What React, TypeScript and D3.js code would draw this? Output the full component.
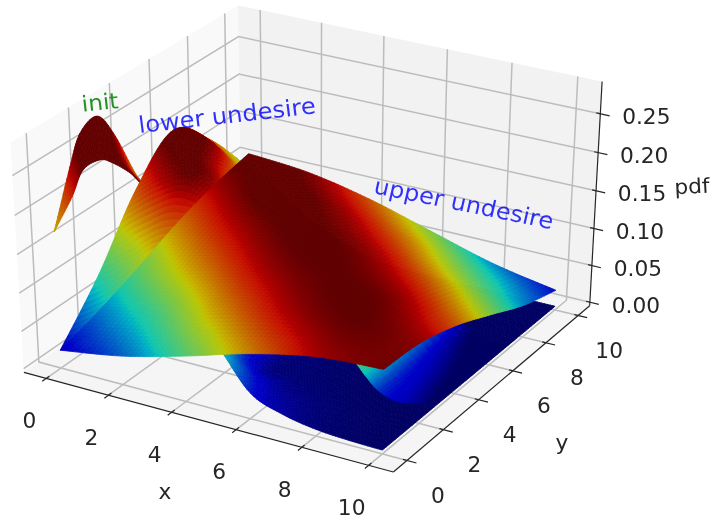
// 3D surface plot (matplotlib mplot3d look) projected by hand, drawn with d3
import React, { useRef, useEffect } from 'react';
import * as d3 from 'd3';

const xTicks = [0, 2, 4, 6, 8, 10];
const yTicks = [0, 2, 4, 6, 8, 10];
const zTicks = [0, 0.05, 0.1, 0.15, 0.2, 0.25];

// main sheet (upper undesire), rows are y = 0, 2 .. 10, columns x = 0, 2 .. 10
const sheetX = [0, 2, 4, 6, 8, 10];
const sheetY = [0, 2, 4, 6, 8, 10];
const sheetZ = [
	[0.019, 0.033, 0.055, 0.08, 0.098, 0.104],
	[0.036, 0.055, 0.08, 0.098, 0.105, 0.1],
	[0.057, 0.08, 0.098, 0.105, 0.102, 0.085],
	[0.08, 0.098, 0.106, 0.102, 0.086, 0.062],
	[0.098, 0.108, 0.102, 0.086, 0.062, 0.038],
	[0.11, 0.103, 0.086, 0.062, 0.038, 0.022],
];

// lower hump, rows are y = 0, 2 .. 10, columns x = 0, 1 .. 10
const humpX = [0, 1, 2, 3, 4, 5, 6, 7, 8, 9, 10];
const humpY = [0, 2, 4, 6, 8, 10];
const humpZ = [
	[0.019, 0.05, 0.09, 0.12, 0.115, 0.08, 0.029, 0.012, 0.004, 0.001, 0],
	[0.082, 0.11, 0.14, 0.15, 0.09, 0.018, 0.006, 0.003, 0.001, 0, 0],
	[0.16, 0.19, 0.2, 0.16, 0.07, 0.012, 0.003, 0.001, 0, 0, 0],
	[0.206, 0.2, 0.15, 0.08, 0.025, 0.005, 0.001, 0, 0, 0, 0],
	[0.16, 0.13, 0.08, 0.04, 0.012, 0.002, 0, 0, 0, 0, 0],
	[0.09, 0.07, 0.04, 0.02, 0.005, 0.001, 0, 0, 0, 0, 0],
];

// init ribbon: outer edge lies on x = 0, inner edge lies on y = 0
const initOuterY = [0, 0.88, 1.42, 2.25, 3.0, 3.93, 4.27];
const initOuterZ = [0.174, 0.242, 0.275, 0.283, 0.25, 0.187, 0.168];
const initInnerX = [0, 0.62, 1.0, 1.55, 1.94, 2.45, 2.75];
const initInnerZ = [0.174, 0.224, 0.261, 0.279, 0.279, 0.272, 0.263];

// small tail showing below the main sheet on the right
const tailX = [8.16, 8.5, 8.85, 9.42, 9.92, 10];
const tailY = [
	[1.88, 1.82, 1.84, 1.85, 2.48, 3.5],
	[4, 4, 4, 4, 4.2, 5],
	[7, 7, 7, 7, 7, 7.5],
];
const tailZ = [
	[0.055, 0.042, 0.028, 0.02, 0.012, 0.003],
	[0.05, 0.036, 0.024, 0.015, 0.006, 0.002],
	[0.04, 0.022, 0.012, 0.004, 0.002, 0.001],
];

// jet colormap channels
const jetR = d3.scaleLinear([0, 0.35, 0.66, 0.89, 1], [0, 0, 1, 1, 0.5]).clamp(true);
const jetG = d3.scaleLinear([0, 0.125, 0.375, 0.64, 0.91, 1], [0, 0, 1, 1, 0, 0]).clamp(true);
const jetB = d3.scaleLinear([0, 0.11, 0.34, 0.65, 1], [0.5, 1, 1, 0, 0]).clamp(true);
const shade = 0.78;
const jet = (t) => d3.rgb(jetR(t) * 255 * shade, jetG(t) * 255 * shade, jetB(t) * 255 * shade).formatHex();

// world -> box coordinates
const xLim = [-0.73, 10.73];
const yLim = [-0.73, 10.73];
const zLim = [-0.005, 0.291];
const boxX = d3.scaleLinear(xLim, [-0.595, 0.595]);
const boxY = d3.scaleLinear(yLim, [-0.595, 0.595]);
const boxZ = d3.scaleLinear(zLim, [-0.4465, 0.4465]);
// projected -> pixels (the figure is stretched sideways)
const pixX = d3.scaleLinear([0, 1], [312, 312 + 3557]);
const pixY = d3.scaleLinear([0, 1], [227.5, 227.5 - 2935]);
const textStretch = 1.06;

// elev 30, azim -60, dist 10
const project = (x, y, z) => {
	const a = boxX(x), b = boxY(y), c = boxZ(z);
	const u = 0.866 * a + 0.5 * b;
	const v = -0.25 * a + 0.433 * b + 0.866 * c;
	const w = 10 - (0.433 * a - 0.75 * b + 0.5 * c);
	return [pixX(u / w), pixY(v / w), w];
};

// catmull-rom along an index
const spline = (arr, t) => {
	const n = arr.length - 1;
	const i = Math.min(Math.floor(t), n - 1);
	const f = t - i;
	if (n === 1) return arr[0] + (arr[1] - arr[0]) * f;
	const p0 = arr[Math.max(i - 1, 0)], p1 = arr[i], p2 = arr[i + 1], p3 = arr[Math.min(i + 2, n)];
	return 0.5 * (2 * p1 + (p2 - p0) * f + (2 * p0 - 5 * p1 + 4 * p2 - p3) * f * f + (3 * p1 - p0 - 3 * p2 + p3) * f * f * f);
};
const patch = (grid, u, v) => spline(grid.map(row => spline(row, u)), v);

const buildCells = (X, Y, Z, nu, nv, color) => {
	const cols = X[0].length - 1, rows = X.length - 1;
	const pts = d3.range(nv + 1).map(j => d3.range(nu + 1).map(i => {
		const u = i / nu * cols, v = j / nv * rows;
		const z = Math.max(patch(Z, u, v), 0);
		return { p: project(patch(X, u, v), patch(Y, u, v), z), z };
	}));
	const cells = [];
	for (let j = 0; j < nv; j++) {
		for (let i = 0; i < nu; i++) {
			const q = [pts[j][i], pts[j][i + 1], pts[j + 1][i + 1], pts[j + 1][i]];
			cells.push({
				d: d3.line()(q.map(o => [o.p[0], o.p[1]])) + 'Z',
				fill: color(d3.mean(q, o => o.z)),
				depth: d3.mean(q, o => o.p[2]),
			});
		}
	}
	return cells.sort((m, n) => d3.descending(m.depth, n.depth));
};

const App = () => {
	const svgRef = useRef();

	useEffect(() => {
		const svg = d3.select(svgRef.current);
		svg.selectAll('*').remove();

		const toPath = (list) => d3.line()(list.map(q => project(q[0], q[1], q[2]).slice(0, 2)));
		const [x0, x1] = xLim, [y0, y1] = yLim, [z0, z1] = zLim;

		// panes
		const panes = [
			{ pts: [[x0, y0, z0], [x0, y1, z0], [x0, y1, z1], [x0, y0, z1]], fill: '#f9f9f9' },
			{ pts: [[x0, y1, z0], [x1, y1, z0], [x1, y1, z1], [x0, y1, z1]], fill: '#f2f2f2' },
			{ pts: [[x0, y0, z0], [x1, y0, z0], [x1, y1, z0], [x0, y1, z0]], fill: '#f5f5f5' },
		];
		svg.append('g').selectAll('path').data(panes).join('path')
			.attr('d', d => toPath(d.pts) + 'Z')
			.attr('fill', d => d.fill);

		// grid
		const gridLines = [
			...xTicks.map(t => [[t, y0, z0], [t, y1, z0], [t, y1, z1]]),
			...yTicks.map(t => [[x1, t, z0], [x0, t, z0], [x0, t, z1]]),
			...zTicks.map(t => [[x0, y0, t], [x0, y1, t], [x1, y1, t]]),
		];
		svg.append('g').selectAll('path').data(gridLines).join('path')
			.attr('d', toPath)
			.attr('fill', 'none')
			.attr('stroke', '#bcbcbc')
			.attr('stroke-width', 1.5);

		// surfaces, each with its own colour range
		const initColor = d3.scaleLinear([0, 0.26], [0, 1]).clamp(true);
		const humpColor = d3.scaleLinear([0, 0.2], [0, 1]).clamp(true);
		const sheetColor = d3.scaleLinear([0.01, 0.105], [0, 1]).clamp(true);
		const surfaces = [
			buildCells(
				[initInnerX, initInnerX.map(() => 0)],
				[initInnerX.map(() => 0), initOuterY],
				[initInnerZ, initOuterZ],
				60, 6, z => jet(initColor(z))),
			buildCells(
				humpY.map(() => humpX),
				humpY.map(y => humpX.map(() => y)),
				humpZ,
				100, 60, z => jet(humpColor(z))),
			buildCells(
				tailY.map(() => tailX),
				tailY,
				tailZ,
				30, 16, z => jet(sheetColor(z))),
			buildCells(
				sheetY.map(() => sheetX),
				sheetY.map(y => sheetX.map(() => y)),
				sheetZ,
				70, 70, z => jet(sheetColor(z))),
		];
		surfaces.forEach(cells => {
			svg.append('g').selectAll('path').data(cells).join('path')
				.attr('d', d => d.d)
				.attr('fill', d => d.fill)
				.attr('stroke', d => d.fill)
				.attr('stroke-width', 0.8);
		});

		// axis lines and tick marks
		const axisLines = [
			[[x0, y0, z0], [x1, y0, z0]],
			[[x1, y0, z0], [x1, y1, z0]],
			[[x1, y1, z0], [x1, y1, z1]],
			...xTicks.map(t => [[t, y0 - 0.2, z0], [t, y0 + 0.15, z0]]),
			...yTicks.map(t => [[x1 - 0.12, t, z0], [x1 + 0.28, t, z0]]),
			...zTicks.map(t => [[x1 - 0.12, y1, t], [x1 + 0.28, y1, t]]),
		];
		svg.append('g').selectAll('path').data(axisLines).join('path')
			.attr('d', toPath)
			.attr('fill', 'none')
			.attr('stroke', '#262626')
			.attr('stroke-width', 1.2);

		// text, stretched a little like the figure
		const label = (str, x, y, rot, color = '#262626', size = 20.5, opacity = 1) => {
			svg.append('text')
				.attr('transform', `translate(${x},${y}) scale(${textStretch},1) rotate(${rot})`)
				.attr('text-anchor', 'middle')
				.attr('dy', '0.36em')
				.attr('font-family', 'DejaVu Sans')
				.attr('font-size', size)
				.attr('fill', color)
				.attr('opacity', opacity)
				.text(str);
		};
		xTicks.forEach(t => {
			const p = project(t, y0, z0);
			label(String(t), p[0] - 17, p[1] + 42, 0);
		});
		yTicks.forEach(t => {
			const p = project(x1, t, z0);
			label(String(t), p[0] + 31, p[1] + 35, 0);
		});
		zTicks.forEach(t => {
			const p = project(x1, y1, t);
			label(d3.format('.2f')(t), p[0] + 46, p[1] + 3, 0);
		});
		label('x', 165, 492, 0);
		label('y', 562, 443, 0);
		label('pdf', 692, 186, -3);
		label('init', 100, 102, -6, '#008000', 22, 0.85);
		label('lower undesire', 227, 115, -6.8, '#0000ff', 22.8, 0.8);
		label('upper undesire', 464, 203, 12.1, '#0000ff', 22.8, 0.8);
	}, []);

	return (
		<svg
			ref={svgRef}
			width={713}
			height={519}
			style={{ position: 'absolute', left: 0, top: 0, background: '#fff', filter: 'blur(0.5px)' }}
		></svg>
	);
};

export default App;
